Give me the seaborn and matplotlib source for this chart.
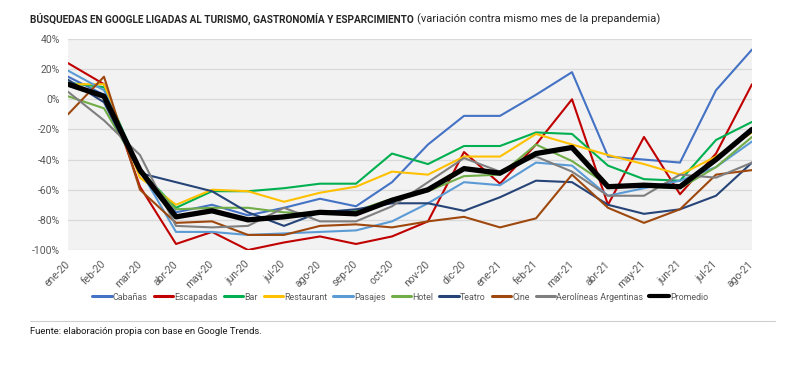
import numpy as np
import pandas as pd
import matplotlib
matplotlib.use("Agg")
import matplotlib.pyplot as plt
from matplotlib.lines import Line2D
import seaborn as sns

months = ["ene-20", "feb-20", "mar-20", "abr-20", "may-20", "jun-20", "jul-20", "ago-20",
          "sep-20", "oct-20", "nov-20", "dic-20", "ene-21", "feb-21", "mar-21", "abr-21",
          "may-21", "jun-21", "jul-21", "ago-21"]

cabanas     = [15, 3, -48, -75, -70, -77, -72, -66, -71, -55, -30, -11, -11, 3, 18, -38, -40, -42, 6, 33]
escapadas   = [24, 10, -58, -96, -88, -100, -95, -91, -96, -91, -81, -35, -56, -30, 0, -70, -25, -63, -36, 10]
bar         = [11, 8, -47, -72, -61, -61, -59, -56, -56, -36, -43, -31, -31, -22, -23, -44, -53, -54, -27, -15]
restaurant  = [10, 10, -52, -70, -60, -61, -68, -62, -58, -48, -50, -38, -38, -23, -30, -37, -43, -50, -38, -22]
pasajes     = [19, 6, -47, -88, -88, -90, -89, -88, -87, -81, -69, -55, -57, -42, -44, -64, -59, -54, -45, -28]
hotel       = [2, -6, -47, -73, -72, -72, -75, -76, -74, -66, -61, -51, -50, -30, -41, -57, -58, -59, -45, -25]
teatro      = [13, -2, -49, -55, -61, -75, -84, -75, -73, -69, -69, -74, -65, -54, -55, -70, -76, -73, -64, -42]
cine        = [-10, 15, -60, -82, -81, -90, -90, -84, -83, -85, -81, -78, -85, -79, -50, -72, -82, -73, -50, -47]
aerolineas  = [5, -14, -37, -84, -85, -84, -72, -81, -81, -71, -55, -39, -48, -38, -48, -64, -64, -50, -52, -42]
promedio    = [10, 2, -47, -78, -74, -80, -78, -75, -76, -67, -60, -46, -49, -36, -32, -58, -57, -58, -40, -20]

series_names = ["Cabañas", "Escapadas", "Bar", "Restaurant", "Pasajes", "Hotel", "Teatro",
                "Cine", "Aerolíneas Argentinas", "Promedio"]
series_values = [cabanas, escapadas, bar, restaurant, pasajes, hotel, teatro, cine, aerolineas, promedio]
colors = ["#4472C4", "#C00000", "#00B050", "#FFC000", "#5B9BD5", "#70AD47", "#264478",
          "#9E480E", "#7F7F7F", "#000000"]

yticks = [40, 20, 0, -20, -40, -60, -80, -100]

sns.set_theme(style="white")
plt.rcParams["font.family"] = ["Roboto", "DejaVu Sans"]

rows = []
for name, vals in zip(series_names, series_values):
    for i, v in enumerate(vals):
        rows.append({"serie": name, "idx": i, "valor": v})
df = pd.DataFrame(rows)

fig = plt.figure(figsize=(8, 3.76), dpi=100)
ax = fig.add_axes([68 / 800, 1 - 250 / 376, (752 - 68) / 800, (250 - 39) / 376])
ax.set_facecolor("#F2F2F2")

for name, col in zip(series_names, colors):
    sub = df[df["serie"] == name]
    lw = 3.8 if name == "Promedio" else 1.5
    sns.lineplot(data=sub, x="idx", y="valor", ax=ax, color=col, lw=lw,
                 zorder=5 if name == "Promedio" else 3, legend=False)

ax.set_xlim(0, len(months) - 1)
ax.set_ylim(-100, 40)
ax.set_yticks(yticks)
ax.set_yticklabels([f"{t}%" for t in yticks])
ax.set_xticks(range(len(months)))
ax.set_xticklabels(months, rotation=45, ha="right", va="center", rotation_mode="anchor")
ax.set_xlabel("")
ax.set_ylabel("")
ax.yaxis.grid(True, color="#D9D9D9", lw=0.9)
ax.xaxis.grid(False)
ax.set_axisbelow(True)
for s in ax.spines.values():
    s.set_visible(False)
ax.tick_params(axis="y", length=0, pad=6, labelsize=7.5, labelcolor="#595959")
ax.tick_params(axis="x", length=0, pad=9, labelsize=7.5, labelcolor="#595959")

handles = [Line2D([0], [0], color=c, lw=3 if n == "Promedio" else 2.2) for n, c in zip(series_names, colors)]
leg = fig.legend(handles, series_names, loc="center", bbox_to_anchor=(0.5, 1 - 297 / 376),
                 ncol=10, frameon=False, fontsize=6.4, handlelength=2.2, handletextpad=0.1,
                 columnspacing=0.7, borderaxespad=0)
for t in leg.get_texts():
    t.set_color("#595959")

t1 = fig.text(30 / 800, 1 - 19 / 376, "BÚSQUEDAS EN GOOGLE LIGADAS AL TURISMO, GASTRONOMÍA Y ESPARCIMIENTO",
              fontsize=7.2, fontweight="bold", color="#262626", ha="left", va="center")
fig.canvas.draw()
bb = t1.get_window_extent(renderer=fig.canvas.get_renderer())
x2 = (bb.x1 + 3) / fig.bbox.width
fig.text(x2, 1 - 19 / 376, "(variación contra mismo mes de la prepandemia)",
         fontsize=8, color="#262626", ha="left", va="center")

fig.add_artist(Line2D([30 / 800, 775 / 800], [1 - 321 / 376, 1 - 321 / 376], color="#CFCFCF", lw=0.8))
fig.text(30 / 800, 1 - 331 / 376, "Fuente: elaboración propia con base en Google Trends.",
         fontsize=6.8, color="#1a1a1a", ha="left", va="center")

fig.savefig("out.png", dpi=100, facecolor="white")
